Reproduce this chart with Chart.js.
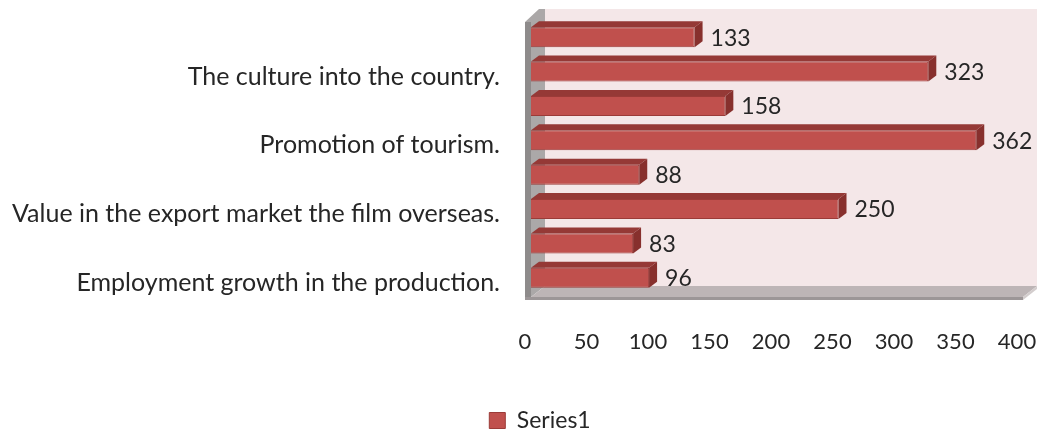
<!DOCTYPE html>
<html>
<head>
<meta charset="utf-8">
<script src="https://cdn.jsdelivr.net/npm/chart.js@4.4.0/dist/chart.umd.min.js"></script>
<style>
  html, body { margin: 0; padding: 0; background: #ffffff; }
  #wrap { width: 1046px; height: 432px; position: relative; }
</style>
</head>
<body>
<div id="wrap"><canvas id="barChart" width="1046" height="432"></canvas></div>
<script>
// categories, only every second row carries a caption
const categories = [
    '',
    'The culture into the country.',
    '',
    'Promotion of tourism.',
    '',
    'Value in the export market the film overseas.',
    '',
    'Employment growth in the production.'
];
const seriesName = 'Series1';
const seriesValues = [133, 323, 158, 362, 88, 250, 83, 96];
const axisMin = 0;
const axisMax = 400;
const axisStep = 50;

const FONT = 'Lato, "DejaVu Sans", sans-serif';
const textColor = '#262626';
const barFront = '#C0504D';
const barEdge = '#9B3B38';
const barTop = '#953936';
const barSide = '#87302D';

// depth of the walls and of the bars
const wallDx = 14, wallDy = -11;
const barDx = 8, barDy = -6;

// plot starts at x = 531, captions end 31px left of it
const padLeft = 57;
const yAxisWidth = 474;
const captionGap = 31;

// captions are drawn mirrored (so they are not clipped to the axis box),
// right-aligned against the widest one
const measureCtx = document.createElement('canvas').getContext('2d');
measureCtx.font = '25px ' + FONT;
const widestCaption = Math.max.apply(null, categories.map(function(c) {
    return measureCtx.measureText(c).width;
}));

// walls and floor behind the bars
const wallsPlugin = {
    id: 'walls',
    beforeDatasetsDraw(chart) {
        const ctx = chart.ctx;
        const a = chart.chartArea;
        const floorFront = a.bottom + 2;
        const floorBack = floorFront + wallDy;
        ctx.save();

        // back wall
        ctx.fillStyle = '#F4E7E8';
        ctx.fillRect(a.left + wallDx, a.top + wallDy, a.right - a.left, floorBack - (a.top + wallDy));

        // left wall
        ctx.fillStyle = '#ABA8A8';
        ctx.beginPath();
        ctx.moveTo(a.left - 6, a.top + 2);
        ctx.lineTo(a.left - 6 + wallDx, a.top + wallDy);
        ctx.lineTo(a.left + wallDx, a.top + wallDy);
        ctx.lineTo(a.left + wallDx, floorBack);
        ctx.lineTo(a.left, floorFront);
        ctx.lineTo(a.left, floorFront + 3);
        ctx.lineTo(a.left - 6, floorFront + 3);
        ctx.closePath();
        ctx.fill();
        ctx.fillStyle = '#8E8B8B';
        ctx.fillRect(a.left - 6, a.top + 2, 6, floorFront + 3 - (a.top + 2));

        // floor
        ctx.fillStyle = '#BDB5B6';
        ctx.beginPath();
        ctx.moveTo(a.left, floorFront);
        ctx.lineTo(a.left + wallDx, floorBack);
        ctx.lineTo(a.right + wallDx, floorBack);
        ctx.lineTo(a.right, floorFront);
        ctx.closePath();
        ctx.fill();
        ctx.fillStyle = '#D3CDCD';
        ctx.beginPath();
        ctx.moveTo(a.right, floorFront);
        ctx.lineTo(a.right + wallDx, floorBack);
        ctx.lineTo(a.right + wallDx, floorBack + 3);
        ctx.lineTo(a.right, floorFront + 3);
        ctx.closePath();
        ctx.fill();
        ctx.fillStyle = '#9C9697';
        ctx.fillRect(a.left - 6, floorFront, a.right - a.left + 6, 3);
        ctx.restore();
    }
};

// top and side faces of each bar, plus the value beside it
const barDepthPlugin = {
    id: 'barDepth',
    afterDatasetsDraw(chart) {
        const ctx = chart.ctx;
        const meta = chart.getDatasetMeta(0);
        ctx.save();
        meta.data.forEach(function(bar, i) {
            const x0 = bar.base;
            const x1 = bar.x;
            const yTop = bar.y - bar.height / 2;
            const yBot = bar.y + bar.height / 2;

            ctx.fillStyle = barTop;
            ctx.beginPath();
            ctx.moveTo(x0, yTop);
            ctx.lineTo(x0 + barDx, yTop + barDy);
            ctx.lineTo(x1 + barDx, yTop + barDy);
            ctx.lineTo(x1, yTop);
            ctx.closePath();
            ctx.fill();

            ctx.fillStyle = barSide;
            ctx.beginPath();
            ctx.moveTo(x1, yTop);
            ctx.lineTo(x1 + barDx, yTop + barDy);
            ctx.lineTo(x1 + barDx, yBot + barDy);
            ctx.lineTo(x1, yBot);
            ctx.closePath();
            ctx.fill();

            ctx.fillStyle = textColor;
            ctx.font = '23px ' + FONT;
            ctx.textAlign = 'left';
            ctx.textBaseline = 'middle';
            ctx.fillText(String(seriesValues[i]), x1 + 16, bar.y + 1);
        });
        ctx.restore();
    }
};

const ctx = document.getElementById('barChart').getContext('2d');

const barChart = new Chart(ctx, {
    type: 'bar',
    data: {
        labels: categories,
        datasets: [{
            label: seriesName,
            data: seriesValues,
            backgroundColor: barFront,
            borderColor: barEdge,
            borderWidth: 1,
            categoryPercentage: 1,
            barPercentage: 0.58
        }]
    },
    options: {
        indexAxis: 'y',
        responsive: false,
        animation: false,
        layout: {
            padding: { top: 20, left: padLeft, right: 23, bottom: 0 }
        },
        scales: {
            x: {
                min: axisMin,
                max: axisMax,
                border: { display: false },
                // tick marks stay hidden, their length only spaces the labels
                grid: { display: false, drawTicks: true, tickLength: 34 },
                ticks: {
                    stepSize: axisStep,
                    padding: 0,
                    labelOffset: -6,
                    color: textColor,
                    font: { family: FONT, size: 22 }
                },
                afterFit(scale) { scale.height = 112; }
            },
            y: {
                border: { display: false },
                grid: { display: false, drawTicks: false },
                ticks: {
                    autoSkip: false,
                    mirror: true,
                    crossAlign: 'far',
                    padding: -captionGap - widestCaption,
                    labelOffset: 5,
                    color: textColor,
                    font: { family: FONT, size: 25 }
                },
                afterFit(scale) { scale.width = yAxisWidth; }
            }
        },
        plugins: {
            legend: {
                position: 'bottom',
                maxHeight: 25,
                labels: {
                    boxWidth: 16,
                    boxHeight: 16,
                    padding: 2,
                    color: textColor,
                    font: { family: FONT, size: 23 }
                }
            },
            tooltip: { enabled: false }
        }
    },
    plugins: [wallsPlugin, barDepthPlugin]
});
</script>
</body>
</html>
